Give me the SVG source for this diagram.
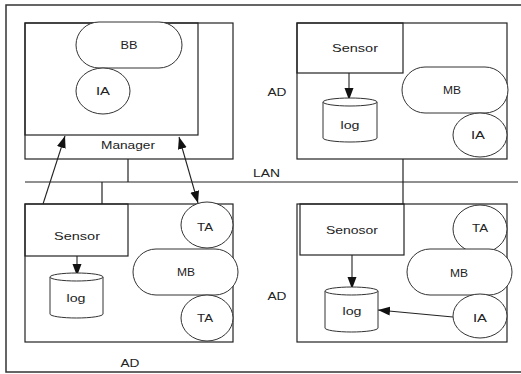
<svg xmlns="http://www.w3.org/2000/svg" width="521" height="374" viewBox="0 0 521 374">
<style>
.box{fill:none;stroke:#222;stroke-width:1.2}
.frame{fill:none;stroke:#333;stroke-width:1.5}
.sh{fill:#fff;stroke:#333;stroke-width:1}
.ln{fill:none;stroke:#222;stroke-width:1.2}
.ar{fill:none;stroke:#222;stroke-width:1.1}
text{font-family:"Liberation Sans",Arial,sans-serif;font-size:11px;fill:#222;text-anchor:middle}
.l{text-anchor:start}
</style>
<defs>
<marker id="ah" markerUnits="userSpaceOnUse" markerWidth="13" markerHeight="10" refX="12" refY="4.5" orient="auto-start-reverse">
<path d="M0,0 L12,4.5 L0,9 z" fill="#111"/>
</marker>
</defs>
<rect class="frame" x="6" y="5" width="530" height="367"/>

<g id="lan">
<line class="ln" x1="25" y1="182" x2="518" y2="182"/>
<text class="l" x="253" y="177" textLength="27" lengthAdjust="spacingAndGlyphs">LAN</text>
</g>

<g id="connectors">
<line class="ln" x1="128" y1="159" x2="128" y2="182"/>
<line class="ln" x1="102" y1="182" x2="102" y2="204"/>
<line class="ln" x1="403" y1="159" x2="403" y2="204"/>
<line class="ar" x1="43" y1="204" x2="65" y2="136" marker-end="url(#ah)"/>
<line class="ar" x1="179" y1="137" x2="198" y2="203" marker-start="url(#ah)" marker-end="url(#ah)"/>
<line class="ar" x1="349" y1="73" x2="349" y2="100" marker-end="url(#ah)"/>
<line class="ar" x1="77" y1="256" x2="77" y2="276" marker-end="url(#ah)"/>
<line class="ar" x1="352" y1="255" x2="352" y2="289" marker-end="url(#ah)"/>
<line class="ar" x1="453" y1="317" x2="378" y2="310" marker-end="url(#ah)"/>
</g>

<g id="manager">
<rect class="box" x="25" y="23" width="208" height="136"/>
<rect class="box" x="25" y="23" width="173" height="112"/>
<text x="128" y="149" textLength="54" lengthAdjust="spacingAndGlyphs">Manager</text>
</g>
<g id="bb">
<rect class="sh" x="76" y="22" width="106" height="46" rx="23"/>
<text x="129" y="49" textLength="17" lengthAdjust="spacingAndGlyphs">BB</text>
</g>
<g id="ia-manager">
<ellipse class="sh" cx="103" cy="91" rx="27" ry="23"/>
<text x="103" y="95" textLength="14" lengthAdjust="spacingAndGlyphs">IA</text>
</g>

<g id="ad-top-right">
<rect class="box" x="297" y="23" width="210" height="136"/>
<text x="277" y="96" textLength="19" lengthAdjust="spacingAndGlyphs">AD</text>
</g>
<g id="sensor-tr">
<rect class="box" x="297" y="23" width="106" height="50"/>
<text x="355" y="52" textLength="46" lengthAdjust="spacingAndGlyphs">Sensor</text>
</g>
<g id="log-tr">
<path class="sh" d="M323,102 A27,4 0 0 1 377,102 L377,138 A27,4 0 0 1 323,138 Z"/>
<path class="sh" d="M323,102 A27,4 0 0 0 377,102"/>
<text x="350" y="129" textLength="19" lengthAdjust="spacingAndGlyphs">log</text>
</g>
<g id="mb-tr">
<rect class="sh" x="402" y="67" width="106" height="46" rx="23"/>
<text x="452" y="94" textLength="18" lengthAdjust="spacingAndGlyphs">MB</text>
</g>
<g id="ia-tr">
<ellipse class="sh" cx="480" cy="135" rx="27" ry="22"/>
<text x="478" y="139" textLength="14" lengthAdjust="spacingAndGlyphs">IA</text>
</g>

<g id="ad-bottom-left">
<rect class="box" x="25" y="204" width="208" height="138"/>
<text x="130" y="367" textLength="19" lengthAdjust="spacingAndGlyphs">AD</text>
</g>
<g id="sensor-bl">
<rect class="box" x="25" y="204" width="103" height="52"/>
<text x="77" y="240" textLength="46" lengthAdjust="spacingAndGlyphs">Sensor</text>
</g>
<g id="log-bl">
<path class="sh" d="M50,277 A26.5,4 0 0 1 103,277 L103,314 A26.5,4 0 0 1 50,314 Z"/>
<path class="sh" d="M50,277 A26.5,4 0 0 0 103,277"/>
<text x="76" y="302" textLength="19" lengthAdjust="spacingAndGlyphs">log</text>
</g>
<g id="ta-bl-top">
<ellipse class="sh" cx="207" cy="225" rx="26" ry="23"/>
<text x="205" y="231" textLength="16" lengthAdjust="spacingAndGlyphs">TA</text>
</g>
<g id="mb-bl">
<rect class="sh" x="133" y="249" width="105" height="46" rx="23"/>
<text x="186" y="276" textLength="18" lengthAdjust="spacingAndGlyphs">MB</text>
</g>
<g id="ta-bl-bottom">
<ellipse class="sh" cx="207" cy="318" rx="26" ry="23"/>
<text x="205" y="322" textLength="16" lengthAdjust="spacingAndGlyphs">TA</text>
</g>

<g id="ad-bottom-right">
<rect class="box" x="297" y="204" width="210" height="138"/>
<text x="277" y="300" textLength="19" lengthAdjust="spacingAndGlyphs">AD</text>
</g>
<g id="senosor-br">
<rect class="box" x="300" y="204" width="104" height="51"/>
<text x="352" y="234" textLength="52" lengthAdjust="spacingAndGlyphs">Senosor</text>
</g>
<g id="log-br">
<path class="sh" d="M325,291 A26.5,4 0 0 1 378,291 L378,328 A26.5,4 0 0 1 325,328 Z"/>
<path class="sh" d="M325,291 A26.5,4 0 0 0 378,291"/>
<text x="352" y="315" textLength="19" lengthAdjust="spacingAndGlyphs">log</text>
</g>
<g id="ta-br">
<ellipse class="sh" cx="480" cy="229" rx="27" ry="24"/>
<text x="480" y="232" textLength="16" lengthAdjust="spacingAndGlyphs">TA</text>
</g>
<g id="mb-br">
<rect class="sh" x="407" y="249" width="105" height="46" rx="23"/>
<text x="459" y="277" textLength="18" lengthAdjust="spacingAndGlyphs">MB</text>
</g>
<g id="ia-br">
<ellipse class="sh" cx="480" cy="316" rx="27" ry="22"/>
<text x="480" y="322" textLength="14" lengthAdjust="spacingAndGlyphs">IA</text>
</g>
</svg>
